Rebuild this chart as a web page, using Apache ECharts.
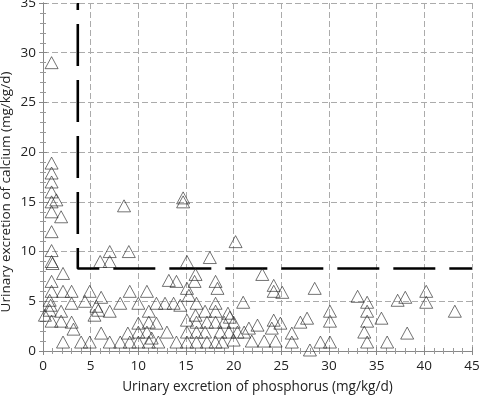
<!DOCTYPE html>
<html>
<head>
<meta charset="utf-8">
<script src="https://cdn.jsdelivr.net/npm/echarts@6/dist/echarts.min.js"></script>
<style>
  html, body { margin: 0; padding: 0; background: #fff; }
  #chart { width: 479px; height: 395px; }
</style>
</head>
<body>
<div id="chart"></div>
<script>
// x: phosphorus (mg/kg/d), y: calcium (mg/kg/d)
const xTicks = [0, 5, 10, 15, 20, 25, 30, 35, 40, 45]
const yTicks = [0, 5, 10, 15, 20, 25, 30, 35]

const patientsLeft = [
  [0.9, 29], [0.9, 18.9], [0.9, 17.9], [0.9, 17.0], [0.9, 16.0], [1.4, 15.2], [0.9, 15.0],
  [0.9, 14.0], [1.9, 13.5], [0.9, 12.0], [0.9, 10.1], [0.9, 9.0], [1.0, 8.8], [2.1, 7.8],
  [0.9, 7.0], [0.9, 6.0], [2.1, 6.0], [3.0, 6.0], [0.7, 5.1], [3.0, 4.8], [0.8, 4.6],
  [0.7, 4.1], [1.9, 4.0], [0.2, 3.6], [0.9, 3.0], [1.9, 3.0], [3.0, 2.9], [3.2, 2.2],
  [2.1, 0.9], [4.0, 0.9], [4.9, 0.9], [4.9, 6.0], [4.4, 5.0], [6.1, 5.4], [5.6, 4.5],
  [5.4, 3.6], [5.8, 4.1], [7.0, 4.0], [8.1, 4.8], [6.0, 9.0], [7.0, 9.0], [7.0, 10.0],
  [9.0, 10.0], [8.5, 14.6], [6.1, 1.8], [7.0, 0.9], [8.1, 0.9], [9.1, 0.9], [10.0, 0.9],
  [11.1, 0.9], [12.1, 0.9], [9.1, 6.0], [10.9, 6.0], [10.0, 4.8], [11.9, 4.8], [12.8, 4.8],
  [13.7, 4.8], [14.4, 4.6], [11.1, 4.0], [10.0, 2.8], [11.1, 2.9], [11.9, 2.8], [8.9, 1.8],
  [10.0, 1.9], [10.9, 1.9], [13.0, 1.9], [11.4, 1.3]
]

const patientsMid = [
  [14.7, 15.4], [14.7, 15.0], [15.1, 9.0], [17.5, 9.4], [16.0, 7.7], [13.2, 7.1], [14.0, 7.0],
  [15.9, 7.0], [18.1, 7.0], [18.3, 6.3], [15.1, 6.3], [15.3, 5.6], [16.1, 4.8], [18.1, 4.8],
  [15.1, 3.1], [16.0, 3.6], [17.0, 4.0], [18.1, 4.0], [16.1, 2.9], [17.2, 2.9], [18.1, 2.9],
  [15.1, 1.9], [16.1, 1.9], [17.0, 1.9], [18.6, 1.9], [19.4, 3.8], [19.6, 3.4], [19.0, 2.9],
  [20.0, 2.9], [20.2, 11.0], [21.0, 4.9], [21.1, 1.9], [21.6, 2.3], [22.5, 2.6], [20.0, 1.1],
  [21.9, 1.0], [23.2, 1.0], [24.4, 1.0], [19.5, 1.9], [20.4, 1.9], [14.0, 0.9], [15.1, 0.9],
  [16.1, 0.9], [17.2, 0.9], [18.1, 0.9], [18.8, 0.9]
]

const patientsRight = [
  [23.0, 7.7], [24.2, 6.6], [24.2, 6.0], [25.1, 5.9], [24.2, 3.1], [24.9, 2.8], [24.0, 2.3],
  [26.1, 1.8], [26.1, 0.9], [27.0, 2.9], [27.7, 3.3], [28.5, 6.3], [28.0, 0.1], [29.1, 0.9],
  [30.1, 4.0], [30.1, 3.0], [30.1, 0.9], [33.0, 5.5], [34.0, 4.9], [34.0, 4.0], [34.0, 3.0],
  [33.7, 1.9], [34.0, 0.9], [35.5, 3.3], [36.1, 0.9], [37.2, 5.1], [38.0, 5.4], [38.2, 1.8],
  [40.2, 6.0], [40.2, 4.9], [43.2, 4.0]
]

// cut-off lines
const cutoffPath = [[3.65, 35], [3.65, 8.3], [45, 8.3]]

const points = patientsLeft.concat(patientsMid, patientsRight)

const chart = echarts.init(document.getElementById('chart'))

const fontFamily = 'Open Sans'
const gridLine = { show: true, lineStyle: { color: '#ababab', type: [6, 3], width: 1 } }

const option = {
  animation: false,
  backgroundColor: '#ffffff',
  grid: { left: 43, right: 7, top: 3, bottom: 44, outerBoundsMode: 'none', containLabel: false },
  xAxis: [
    {
      type: 'value',
      min: 0, max: 45, interval: 5,
      name: 'Urinary excretion of phosphorus (mg/kg/d)',
      nameLocation: 'middle',
      nameGap: 29,
      nameMoveOverlap: false,
      nameTextStyle: { color: '#222', fontSize: 13.6, fontFamily },
      axisLine: { show: true, lineStyle: { color: '#888', width: 1 } },
      axisTick: { show: true, inside: true, length: 4, lineStyle: { color: '#888' } },
      minorTick: { show: true, splitNumber: 5, length: 3, lineStyle: { color: '#999' } },
      axisLabel: { color: '#222', fontSize: 13.5, fontFamily, margin: 8 },
      splitLine: gridLine
    },
    {
      type: 'value',
      position: 'top',
      min: 0, max: 45, interval: 5,
      axisLine: { show: true, lineStyle: { color: '#888', width: 1 } },
      axisTick: { show: true, inside: true, length: 4, lineStyle: { color: '#888' } },
      minorTick: { show: true, splitNumber: 5, length: 3, lineStyle: { color: '#999' } },
      axisLabel: { show: false },
      splitLine: { show: false }
    }
  ],
  yAxis: [
    {
      type: 'value',
      min: 0, max: 35, interval: 5,
      name: 'Urinary excretion of calcium (mg/kg/d)',
      nameLocation: 'middle',
      nameGap: 30,
      nameMoveOverlap: false,
      nameTextStyle: { color: '#222', fontSize: 13.5, fontFamily, padding: [0, 30, 0, 0] },
      axisLine: { show: true, lineStyle: { color: '#888', width: 1 } },
      axisTick: { show: true, inside: true, length: 4, lineStyle: { color: '#888' } },
      minorTick: { show: true, splitNumber: 5, length: 3, lineStyle: { color: '#999' } },
      axisLabel: { color: '#222', fontSize: 13.5, fontFamily, margin: 7 },
      splitLine: gridLine
    },
    {
      type: 'value',
      position: 'right',
      min: 0, max: 35, interval: 5,
      axisLine: { show: true, lineStyle: { color: '#888', width: 1 } },
      axisTick: { show: true, inside: true, length: 4, lineStyle: { color: '#888' } },
      minorTick: { show: true, splitNumber: 5, length: 3, lineStyle: { color: '#999' } },
      axisLabel: { show: false },
      splitLine: { show: false }
    }
  ],
  series: [
    {
      type: 'line',
      data: cutoffPath,
      symbol: 'none',
      z: 1,
      lineStyle: { color: '#000', width: 2.6, type: [42, 14], dashOffset: 35, cap: 'butt' }
    },
    {
      type: 'scatter',
      data: points,
      symbol: 'triangle',
      symbolSize: [13, 12],
      z: 3,
      itemStyle: { color: 'rgba(0,0,0,0)', borderColor: '#222', borderWidth: 0.8 }
    }
  ]
}

chart.setOption(option)
</script>
</body>
</html>
